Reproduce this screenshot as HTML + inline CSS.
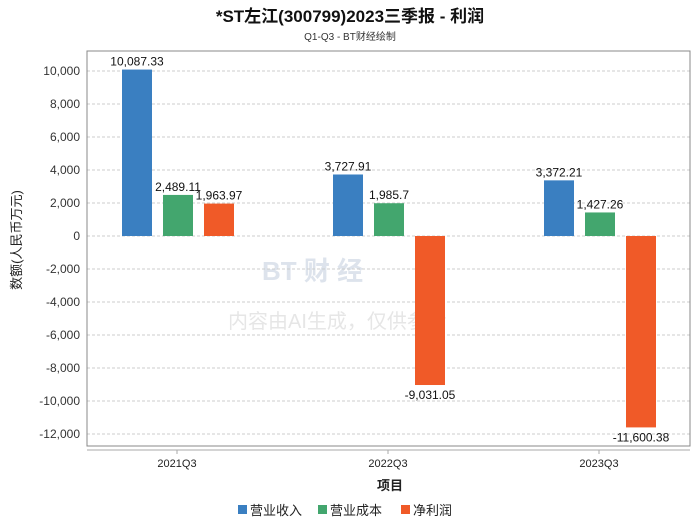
<!DOCTYPE html>
<html><head><meta charset="utf-8"><style>
body{margin:0;background:#fff;width:700px;height:524px;overflow:hidden;font-family:"Liberation Sans","Noto Sans CJK SC",sans-serif}
</style></head><body>
<svg id="c" width="700" height="524" xmlns="http://www.w3.org/2000/svg">
<text x="350" y="22" text-anchor="middle" font-size="17" font-weight="bold" fill="#111">*ST左江(300799)2023三季报 - 利润</text>
<text x="350" y="40" text-anchor="middle" font-size="10" fill="#333">Q1-Q3 - BT财经绘制</text>
<text x="262" y="280" font-size="26" font-weight="bold" fill="#dde3ec">BT 财 经</text>
<text x="228" y="328" font-size="20" fill="#e6e6e6">内容由AI生成，仅供参考</text>
<g id="grid"></g><g id="bars"></g>
<rect x="87" y="51" width="603" height="395" fill="none" stroke="#888"/>
<line x1="87" y1="450" x2="690" y2="450" stroke="#aaa"/>
<text x="21" y="240" transform="rotate(-90 21 240)" text-anchor="middle" font-size="13" fill="#222">数额(人民币万元)</text>
<text x="390" y="490" text-anchor="middle" font-size="13" font-weight="bold" fill="#222">项目</text>
<g id="legend"></g>
</svg>
<script>
const categories=["2021Q3","2022Q3","2023Q3"];
const seriesNames=["营业收入","营业成本","净利润"];
const revenue=[10087.33,3727.91,3372.21];
const cost=[2489.11,1985.7,1427.26];
const profit=[1963.97,-9031.05,-11600.38];
const yTicks=[10000,8000,6000,4000,2000,0,-2000,-4000,-6000,-8000,-10000,-12000];
const colors=["#3a7fc1","#43a66e","#f05a28"];
const NS="http://www.w3.org/2000/svg";
const y=v=>236-v*0.0165;
const xc=i=>177+i*211;
function mk(t,a,p){const e=document.createElementNS(NS,t);for(const k in a)e.setAttribute(k,a[k]);p.appendChild(e);return e;}
const fmt=v=>v.toLocaleString('en-US',{maximumFractionDigits:2});
const g=document.getElementById('grid');
yTicks.forEach(t=>{
 const l=mk('line',{x1:87,x2:690,y1:y(t),y2:y(t),stroke:'#ccc','stroke-dasharray':'3,2'},g);
 
 
 const tx=mk('text',{x:80,y:y(t)+4,'text-anchor':'end','font-size':12,fill:'#333'},g);
 tx.textContent=t.toLocaleString('en-US');
 
 
});
const b=document.getElementById('bars');
const series=[revenue,cost,profit];
categories.forEach((c,i)=>{
 const tk=mk('line',{x1:xc(i),x2:xc(i),y1:450,y2:454,stroke:'#aaa'},b);
 
 
 const lt=mk('text',{x:xc(i),y:467,'text-anchor':'middle','font-size':11,fill:'#222'},b);
 lt.textContent=c;
 
 
 series.forEach((s,j)=>{
  const v=s[i];const x=xc(i)-55+j*41;
  const r=mk('rect',{x:x,width:30,y:Math.min(y(v),y(0)),height:Math.abs(y(v)-y(0)),fill:colors[j]},b);
  
  
  const t=mk('text',{x:x+15,y:v>=0?y(v)-4:y(v)+14,'text-anchor':'middle','font-size':12,fill:'#111'},b);
  t.textContent=fmt(v);
  
  
 });
});
const lg=document.getElementById('legend');
const lx=[238,318,401];
seriesNames.forEach((n,j)=>{
 const r=mk('rect',{x:lx[j],y:505,width:9,height:9,fill:colors[j]},lg);
 
 
 const t=mk('text',{x:lx[j]+12,y:515,'font-size':13,fill:'#222'},lg);
 t.textContent=n;
 
 
});
</script>
</body></html>
